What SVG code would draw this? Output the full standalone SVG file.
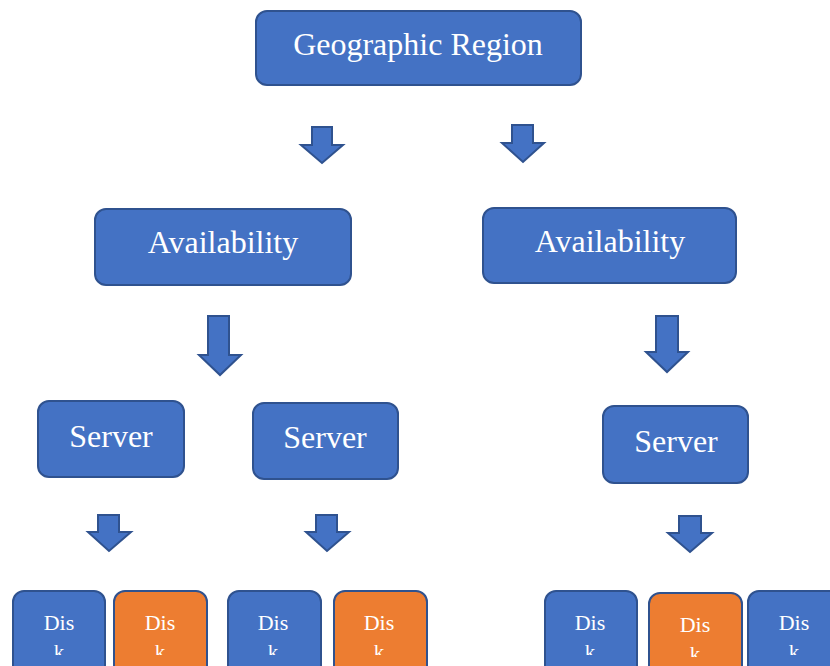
<svg xmlns="http://www.w3.org/2000/svg" width="830" height="666" viewBox="0 0 830 666">
<defs>
<style>
.box{fill:#4472C4;stroke:#2F528F;stroke-width:2}
.org{fill:#ED7D31;stroke:#2F528F;stroke-width:2}
.arr{fill:#4472C4;stroke:#2F528F;stroke-width:2;stroke-linejoin:miter}
.t{font-family:"Liberation Serif","Times New Roman",serif;fill:#ffffff;text-anchor:middle}
.big{font-size:32px}
.sm{font-size:22px}
.k{font-size:21px}
</style>
<clipPath id="kc" clipPathUnits="userSpaceOnUse"><rect x="0" y="0" width="830" height="655"/></clipPath>
<clipPath id="kc2" clipPathUnits="userSpaceOnUse"><rect x="0" y="0" width="830" height="657"/></clipPath>
</defs>
<rect width="830" height="666" fill="#ffffff"/>
<g id="connectors">
<polygon class="arr" points="312,127 332,127 332,145 343,145 322,163 301,145 312,145"/>
<polygon class="arr" points="512,125 533,125 533,143 544,143 523,162 502,143 512,143"/>
<polygon class="arr" points="208,316 229,316 229,355 241,355 220,375 199,355 208,355"/>
<polygon class="arr" points="656,316 678,316 678,352 688,352 667,372 646,352 656,352"/>
<polygon class="arr" points="98,515 119,515 119,532 131,532 109,551 88,532 98,532"/>
<polygon class="arr" points="316,515 337,515 337,532 349,532 327,551 306,532 316,532"/>
<polygon class="arr" points="679,516 701,516 701,533 712,533 690,552 668,533 679,533"/>
</g>
<g id="geo"><rect class="box" x="256" y="11" width="325" height="74" rx="11"/><text class="t big" x="418" y="55">Geographic Region</text></g>
<g id="avail1"><rect class="box" x="95" y="209" width="256" height="76" rx="11"/><text class="t big" x="223" y="253">Availability</text></g>
<g id="avail2"><rect class="box" x="483" y="208" width="253" height="75" rx="11"/><text class="t big" x="610" y="252">Availability</text></g>
<g id="server1"><rect class="box" x="38" y="401" width="146" height="76" rx="11"/><text class="t big" x="111" y="447">Server</text></g>
<g id="server2"><rect class="box" x="253" y="403" width="145" height="76" rx="11"/><text class="t big" x="325" y="448">Server</text></g>
<g id="server3"><rect class="box" x="603" y="406" width="145" height="77" rx="11"/><text class="t big" x="676" y="452">Server</text></g>
<g id="disk1"><rect class="box" x="13" y="591" width="92" height="90" rx="11"/><text class="t sm" x="59" y="630">Dis</text><text class="t k" x="59" y="659" clip-path="url(#kc)">k</text></g>
<g id="disk2"><rect class="org" x="114" y="591" width="93" height="90" rx="11"/><text class="t sm" x="160" y="630">Dis</text><text class="t k" x="160" y="659" clip-path="url(#kc)">k</text></g>
<g id="disk3"><rect class="box" x="228" y="591" width="93" height="90" rx="11"/><text class="t sm" x="273" y="630">Dis</text><text class="t k" x="273" y="659" clip-path="url(#kc)">k</text></g>
<g id="disk4"><rect class="org" x="334" y="591" width="93" height="90" rx="11"/><text class="t sm" x="379" y="630">Dis</text><text class="t k" x="379" y="659" clip-path="url(#kc)">k</text></g>
<g id="disk5"><rect class="box" x="545" y="591" width="92" height="90" rx="11"/><text class="t sm" x="590" y="630">Dis</text><text class="t k" x="590" y="659" clip-path="url(#kc)">k</text></g>
<g id="disk6"><rect class="org" x="649" y="593" width="93" height="90" rx="11"/><text class="t sm" x="695" y="632">Dis</text><text class="t k" x="695" y="661" clip-path="url(#kc2)">k</text></g>
<g id="disk7"><rect class="box" x="748" y="591" width="93" height="90" rx="11"/><text class="t sm" x="794" y="630">Dis</text><text class="t k" x="794" y="659" clip-path="url(#kc)">k</text></g>
</svg>
